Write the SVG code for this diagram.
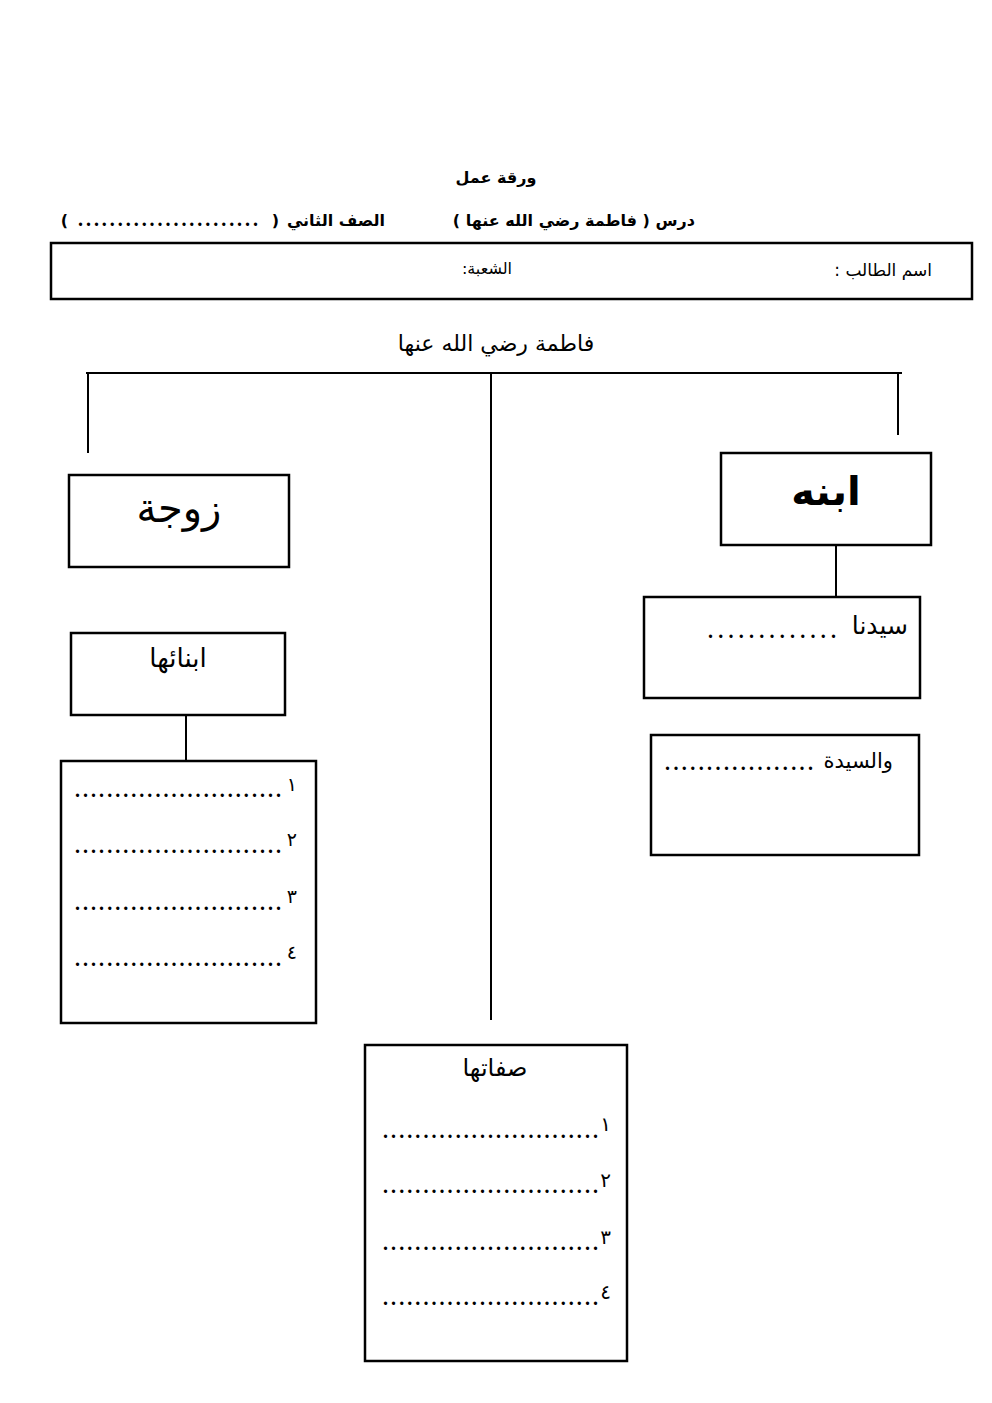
<svg xmlns="http://www.w3.org/2000/svg" width="992" height="1403" viewBox="0 0 992 1403">
<style>
.box{fill:#fff;stroke:#000;stroke-width:2.5}
.ln{stroke:#000;stroke-width:2;fill:none}
.ar{font-family:"DejaVu Sans","Noto Sans",sans-serif;fill:#000}
.b{font-weight:bold}
.dots{font-family:"Liberation Serif",serif;font-size:20px;font-weight:bold;fill:#000}
</style>
<rect width="992" height="1403" fill="#fff"/>
<g id="header">
<text class="ar b" x="496" y="183" font-size="16" text-anchor="middle" direction="rtl">ورقة عمل</text>
<text class="ar b" x="695" y="226" font-size="16" direction="rtl" text-anchor="start">درس ( فاطمة رضي الله عنها )</text>
<text class="ar b" x="385" y="226" font-size="16" direction="rtl" text-anchor="start">الصف الثاني</text>
<text class="ar b" x="279" y="226" font-size="16" direction="rtl" text-anchor="start">(</text>
<text class="dots" x="78" y="226" font-size="16" textLength="180" lengthAdjust="spacing">.......................</text>
<text class="ar b" x="68" y="226" font-size="16" direction="rtl" text-anchor="start">)</text>
<rect class="box" x="51" y="243" width="921" height="56"/>
<text class="ar" x="932" y="276" font-size="17" direction="rtl" text-anchor="start">اسم الطالب :</text>
<text class="ar" x="512" y="274" font-size="16" direction="rtl" text-anchor="start">الشعبة:</text>
</g>
<g id="root">
<text class="ar" x="496" y="351" font-size="22" text-anchor="middle" direction="rtl">فاطمة رضي الله عنها</text>
</g>
<g id="connectors">
<line class="ln" x1="86" y1="373" x2="902" y2="373"/>
<line class="ln" x1="88" y1="373" x2="88" y2="453"/>
<line class="ln" x1="491" y1="373" x2="491" y2="1020"/>
<line class="ln" x1="898" y1="373" x2="898" y2="435"/>
<line class="ln" x1="836" y1="545" x2="836" y2="597"/>
<line class="ln" x1="186" y1="715" x2="186" y2="762"/>
</g>
<g id="zawja">
<rect class="box" x="69" y="475" width="220" height="92"/>
<text class="ar" x="179" y="522" font-size="40" text-anchor="middle" direction="rtl">زوجة</text>
</g>
<g id="ibnah">
<rect class="box" x="721" y="453" width="210" height="92"/>
<text class="ar b" x="826" y="505" font-size="40" text-anchor="middle" direction="rtl">ابنه</text>
</g>
<g id="sayyiduna">
<rect class="box" x="644" y="597" width="276" height="101"/>
<text class="ar" x="908" y="634" font-size="25" direction="rtl" text-anchor="start">سيدنا</text>
<text class="dots" x="708" y="638" font-size="22" textLength="128" lengthAdjust="spacing">.............</text>
</g>
<g id="sayyida">
<rect class="box" x="651" y="735" width="268" height="120"/>
<text class="ar" x="893" y="768" font-size="21" direction="rtl" text-anchor="start">والسيدة</text>
<text class="dots" x="665" y="770" textLength="148" lengthAdjust="spacing">..................</text>
</g>
<g id="abnauha">
<rect class="box" x="71" y="633" width="214" height="82"/>
<text class="ar" x="178" y="667" font-size="26" text-anchor="middle" direction="rtl">ابنائها</text>
</g>
<g id="abnauha-list">
<rect class="box" x="61" y="761" width="255" height="262"/>
<text class="ar" x="297" y="791" font-size="19" text-anchor="end">١</text>
<text class="dots" x="75" y="797" textLength="206" lengthAdjust="spacing">..........................</text>
<text class="ar" x="297" y="846" font-size="19" text-anchor="end">٢</text>
<text class="dots" x="75" y="853" textLength="206" lengthAdjust="spacing">..........................</text>
<text class="ar" x="297" y="903" font-size="19" text-anchor="end">٣</text>
<text class="dots" x="75" y="910" textLength="206" lengthAdjust="spacing">..........................</text>
<text class="ar" x="297" y="959" font-size="19" text-anchor="end">٤</text>
<text class="dots" x="75" y="966" textLength="206" lengthAdjust="spacing">..........................</text>
</g>
<g id="sifatuha">
<rect class="box" x="365" y="1045" width="262" height="316"/>
<text class="ar" x="495" y="1076" font-size="24" text-anchor="middle" direction="rtl">صفاتها</text>
<text class="ar" x="611" y="1131" font-size="20" text-anchor="end">١</text>
<text class="dots" x="383" y="1138" textLength="215" lengthAdjust="spacing">...........................</text>
<text class="ar" x="611" y="1187" font-size="20" text-anchor="end">٢</text>
<text class="dots" x="383" y="1193" textLength="215" lengthAdjust="spacing">...........................</text>
<text class="ar" x="611" y="1244" font-size="20" text-anchor="end">٣</text>
<text class="dots" x="383" y="1250" textLength="215" lengthAdjust="spacing">...........................</text>
<text class="ar" x="611" y="1299" font-size="20" text-anchor="end">٤</text>
<text class="dots" x="383" y="1305" textLength="215" lengthAdjust="spacing">...........................</text>
</g>
</svg>
